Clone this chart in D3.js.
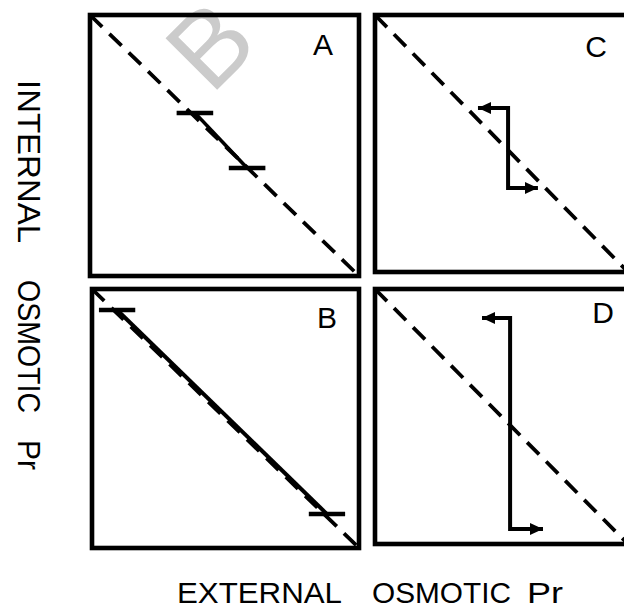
<!DOCTYPE html>
<html>
<head>
<meta charset="utf-8">
<script src="https://cdn.jsdelivr.net/npm/d3@7"></script>
<style>
  html, body { margin: 0; padding: 0; background: #fff; }
  svg { display: block; }
</style>
</head>
<body>
<svg id="chart" width="624" height="608"></svg>
<script>
// Panel identifiers
const panelNames = ["A", "B", "C", "D"];

// Equality line (internal = external), in panel units
const isoLine = [[0, 1], [1, 0]];

// A: short regulated range with end bars
const rangeA = [[0.39, 0.625], [0.584, 0.414]];
// B: long conforming range with end bars
const rangeB = [[0.094, 0.919], [0.88, 0.131]];
// C: small step response (external, internal)
const stepC = [[0.407, 0.638], [0.526, 0.638], [0.526, 0.327], [0.644, 0.327]];
// D: large step response
const stepD = [[0.423, 0.886], [0.534, 0.886], [0.534, 0.059], [0.664, 0.059]];

// Half length of the end bars, in panel units
const barHalf = 0.068;

// Axis title words
const xTitleWords = ["EXTERNAL", "OSMOTIC", "Pr"];
const yTitleWords = ["INTERNAL", "OSMOTIC", "Pr"];

const svg = d3.select("#chart");
const font = "'Liberation Sans', Arial, sans-serif";

// Background watermark letter
svg.append("text")
  .attr("transform", "translate(211,96) rotate(-45)")
  .attr("font-family", font)
  .attr("font-size", 106)
  .attr("fill", "#cbcbcb")
  .text("B");

// Panel frames in pixels
const frames = {
  A: { x0: 90,  y0: 15,  x1: 359, y1: 276, lx: 323, ly: 55 },
  B: { x0: 92,  y0: 289, x1: 359, y1: 548, lx: 327, ly: 328 },
  C: { x0: 375, y0: 15,  x1: 628, y1: 272, lx: 596, ly: 57 },
  D: { x0: 375, y0: 289, x1: 628, y1: 544, lx: 603, ly: 323 }
};

const defs = svg.append("defs");
defs.append("marker")
  .attr("id", "head")
  .attr("viewBox", "0 -7 13 14")
  .attr("refX", 13)
  .attr("refY", 0)
  .attr("markerUnits", "userSpaceOnUse")
  .attr("markerWidth", 13)
  .attr("markerHeight", 14)
  .attr("orient", "auto-start-reverse")
  .append("path")
  .attr("d", "M0,-6 L13,0 L0,6 Z")
  .attr("fill", "#000");

panelNames.forEach(name => {
  const f = frames[name];
  const x = d3.scaleLinear().domain([0, 1]).range([f.x0, f.x1]);
  const y = d3.scaleLinear().domain([0, 1]).range([f.y1, f.y0]);
  const line = d3.line().x(d => x(d[0])).y(d => y(d[1]));
  const g = svg.append("g").attr("class", "panel-" + name);

  // dashed equality line
  g.append("path")
    .attr("d", line(isoLine))
    .attr("fill", "none")
    .attr("stroke", "#000")
    .attr("stroke-width", 3.8)
    .attr("stroke-dasharray", "17,10");

  const range = name === "A" ? rangeA : name === "B" ? rangeB : null;
  if (range) {
    g.append("path")
      .attr("d", line(range))
      .attr("fill", "none")
      .attr("stroke", "#000")
      .attr("stroke-width", name === "B" ? 4 : 3.6);
    range.forEach(p => {
      g.append("path")
        .attr("d", line([[p[0] - barHalf, p[1]], [p[0] + barHalf, p[1]]]))
        .attr("stroke", "#000")
        .attr("stroke-width", 4.5);
    });
  }

  const step = name === "C" ? stepC : name === "D" ? stepD : null;
  if (step) {
    g.append("path")
      .attr("d", line(step))
      .attr("fill", "none")
      .attr("stroke", "#000")
      .attr("stroke-width", 4)
      .attr("stroke-linejoin", "miter")
      .attr("marker-start", "url(#head)")
      .attr("marker-end", "url(#head)");
  }

  // frame
  g.append("rect")
    .attr("x", f.x0).attr("y", f.y0)
    .attr("width", f.x1 - f.x0).attr("height", f.y1 - f.y0)
    .attr("fill", "none")
    .attr("stroke", "#000")
    .attr("stroke-width", 4.6);

  g.append("text")
    .attr("x", f.lx).attr("y", f.ly)
    .attr("text-anchor", "middle")
    .attr("font-family", font)
    .attr("font-size", 30)
    .text(name);
});

// Axis titles
const xWordSpans = [[177, 165], [372, 139], [527, 36]];
xTitleWords.forEach((w, i) => {
  svg.append("text")
    .attr("x", xWordSpans[i][0]).attr("y", 603)
    .attr("font-family", font)
    .attr("font-size", 29)
    .attr("textLength", xWordSpans[i][1])
    .attr("lengthAdjust", "spacingAndGlyphs")
    .text(w);
});

const yWordSpans = [[80, 163], [280, 133], [440, 30]];
yTitleWords.forEach((w, i) => {
  svg.append("text")
    .attr("transform", `translate(18,${yWordSpans[i][0]}) rotate(90)`)
    .attr("font-family", font)
    .attr("font-size", 32)
    .attr("textLength", yWordSpans[i][1])
    .attr("lengthAdjust", "spacingAndGlyphs")
    .text(w);
});
</script>
</body>
</html>
